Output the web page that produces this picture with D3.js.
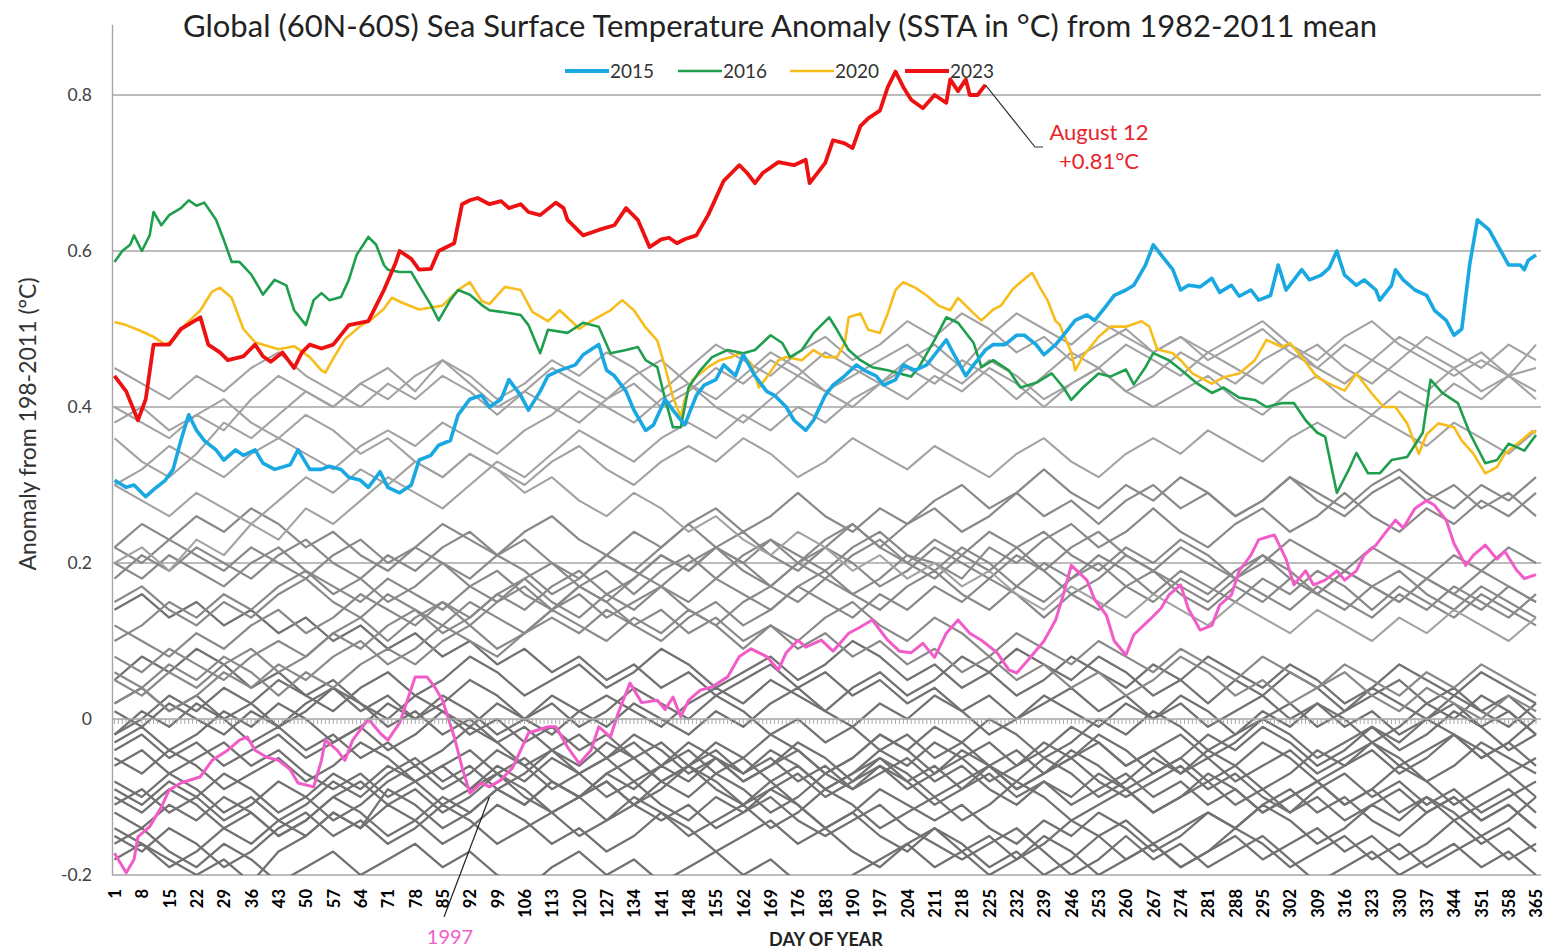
<!DOCTYPE html>
<html>
<head>
<meta charset="utf-8">
<script src="https://cdn.jsdelivr.net/npm/d3@7"></script>
<style>
  html, body { margin: 0; padding: 0; background: #fff; }
  svg { display: block; font-family: Lato, "Open Sans", sans-serif; }
</style>
</head>
<body>
<svg id="chart" width="1550" height="949"></svg>
<script>
'use strict';

// Day-of-year tick labels (also the sample days of the grey background years)
const dayTicks = [1, 8, 15, 22, 29, 36, 43, 50, 57, 64, 71, 78, 85, 92, 99, 106, 113, 120, 127, 134,
    141, 148, 155, 162, 169, 176, 183, 190, 197, 204, 211, 218, 225, 232, 239, 246, 253, 260, 267, 274,
    281, 288, 295, 302, 309, 316, 323, 330, 337, 344, 351, 358, 365];
const yTicks = [-0.2, 0, 0.2, 0.4, 0.6, 0.8];

// Highlighted years, [day, anomaly]
const s2023 = [[1,.44],[4,.42],[7,.383],[9,.41],[11,.48],[15,.48],[18,.50],[23,.515],[25,.48],[28,.47],
    [30,.46],[34,.465],[37,.48],[39,.465],[41,.458],[44,.47],[47,.45],[49,.47],[51,.48],[54,.475],[57,.48],
    [61,.505],[66,.51],[68,.53],[70,.55],[73,.585],[74,.60],[77,.59],[79,.576],[82,.577],[84,.60],[88,.61],
    [90,.66],[92,.665],[94,.668],[97,.66],[100,.664],[102,.655],[105,.66],[107,.65],[110,.646],[114,.662],
    [116,.655],[117,.64],[121,.62],[125,.627],[129,.633],[132,.655],[135,.64],[138,.605],[141,.615],
    [143,.617],[145,.61],[147,.615],[150,.62],[153,.646],[157,.69],[159,.70],[161,.71],[163,.70],[165,.687],
    [167,.70],[171,.714],[175,.71],[178,.717],[179,.687],[183,.713],[185,.742],[188,.738],[190,.732],
    [192,.76],[194,.77],[197,.78],[199,.81],[201,.83],[203,.81],[205,.794],[208,.783],[211,.80],[214,.79],
    [215,.82],[217,.805],[219,.82],[220,.80],[222,.80],[224,.813]];

const s2015 = [[1,.306],[4,.297],[6,.30],[9,.285],[11,.294],[14,.306],[16,.32],[18,.357],[20,.39],[22,.37],
    [24,.357],[27,.345],[29,.332],[32,.345],[34,.338],[37,.345],[39,.328],[42,.32],[46,.326],[48,.345],
    [51,.32],[54,.32],[56,.324],[59,.32],[61,.31],[64,.306],[66,.297],[69,.317],[71,.297],[74,.29],[77,.30],
    [79,.332],[82,.338],[84,.351],[87,.357],[89,.39],[92,.41],[95,.415],[97,.40],[100,.41],[102,.435],
    [105,.415],[107,.396],[110,.42],[112,.44],[115,.447],[119,.454],[121,.467],[125,.48],[127,.447],
    [129,.44],[132,.42],[134,.396],[137,.37],[139,.377],[142,.41],[144,.396],[147,.377],[150,.415],
    [152,.428],[155,.435],[157,.454],[160,.44],[162,.467],[165,.44],[168,.42],[170,.415],[173,.40],
    [175,.383],[178,.37],[180,.383],[183,.415],[185,.428],[188,.44],[191,.454],[193,.447],[196,.44],
    [198,.428],[201,.435],[203,.454],[206,.447],[209,.454],[211,.467],[214,.486],[216,.467],[219,.44],
    [221,.454],[224,.473],[226,.48],[229,.48],[232,.492],[234,.492],[237,.48],[239,.467],[242,.48],
    [244,.492],[247,.511],[250,.518],[252,.511],[255,.53],[257,.543],[260,.55],[262,.556],[265,.582],
    [267,.608],[269,.595],[272,.576],[274,.55],[276,.556],[279,.554],[282,.565],[284,.547],[287,.556],
    [289,.542],[292,.55],[294,.537],[297,.543],[299,.582],[301,.55],[303,.563],[305,.576],[307,.563],
    [310,.569],[312,.578],[314,.60],[316,.569],[319,.556],[321,.563],[324,.55],[325,.537],[328,.556],
    [329,.576],[331,.563],[334,.55],[337,.543],[339,.524],[342,.511],[344,.492],[346,.50],[348,.582],
    [350,.64],[353,.627],[356,.60],[358,.582],[361,.582],[362,.576],[363,.588],[365,.595]];

const s2016 = [[1,.586],[3,.60],[5,.608],[6,.62],[8,.60],[10,.62],[11,.65],[13,.633],[15,.646],[18,.655],
    [20,.665],[22,.658],[24,.662],[27,.64],[29,.614],[31,.586],[33,.586],[36,.57],[38,.553],[39,.544],
    [42,.563],[45,.556],[47,.524],[50,.505],[52,.537],[54,.546],[56,.537],[59,.541],[61,.563],[63,.595],
    [66,.618],[68,.608],[70,.582],[71,.576],[74,.573],[77,.573],[79,.556],[82,.531],[84,.511],[87,.537],
    [89,.55],[92,.544],[95,.531],[97,.524],[100,.522],[105,.518],[107,.505],[110,.469],[112,.499],
    [117,.495],[121,.508],[125,.503],[128,.469],[132,.473],[135,.477],[137,.46],[140,.451],[142,.41],
    [144,.374],[146,.374],[148,.425],[151,.447],[154,.464],[158,.473],[162,.469],[165,.473],[169,.492],
    [172,.482],[174,.464],[177,.473],[180,.495],[184,.515],[186,.499],[189,.473],[192,.46],[195,.451],
    [199,.447],[202,.443],[205,.439],[207,.451],[211,.486],[214,.515],[217,.508],[221,.482],[223,.451],
    [226,.46],[230,.447],[233,.425],[237,.431],[241,.443],[244,.425],[246,.409],[249,.425],[253,.443],
    [256,.439],[260,.448],[262,.429],[265,.451],[267,.469],[271,.46],[274,.448],[278,.431],[282,.418],
    [285,.425],[289,.412],[293,.409],[296,.40],[300,.405],[303,.405],[306,.383],[309,.367],[311,.362],
    [314,.29],[317,.319],[319,.341],[322,.315],[325,.315],[328,.332],[332,.336],[336,.367],[338,.435],
    [341,.418],[345,.405],[348,.367],[352,.328],[355,.332],[358,.353],[362,.344],[365,.364]];

const s2020 = [[1,.509],[4,.505],[7,.499],[11,.49],[14,.48],[16,.486],[19,.505],[23,.524],[26,.548],
    [28,.553],[31,.54],[34,.50],[37,.483],[43,.474],[47,.478],[51,.464],[54,.447],[55,.444],[57,.462],
    [60,.487],[64,.504],[67,.513],[70,.526],[72,.54],[75,.533],[79,.525],[85,.53],[89,.55],[92,.56],
    [95,.536],[97,.532],[101,.554],[105,.55],[108,.522],[112,.51],[115,.524],[118,.51],[120,.50],[123,.51],
    [128,.524],[131,.537],[134,.524],[137,.502],[140,.485],[142,.451],[144,.413],[146,.387],[147,.409],
    [149,.435],[153,.451],[156,.46],[159,.464],[161,.469],[164,.456],[166,.425],[168,.438],[171,.46],
    [173,.464],[177,.46],[180,.473],[183,.464],[186,.464],[188,.482],[189,.515],[192,.52],[194,.499],
    [197,.495],[199,.52],[201,.55],[203,.56],[206,.553],[209,.543],[212,.53],[215,.524],[217,.54],
    [219,.53],[221,.52],[223,.511],[226,.525],[228,.53],[231,.551],[233,.56],[236,.572],[238,.553],
    [240,.536],[242,.51],[243,.506],[246,.47],[247,.447],[249,.465],[253,.49],[256,.503],[260,.503],
    [264,.51],[266,.503],[268,.474],[272,.469],[274,.46],[277,.443],[282,.43],[285,.438],[289,.443],
    [293,.46],[296,.486],[300,.477],[302,.482],[305,.464],[309,.438],[312,.43],[316,.421],[319,.443],
    [323,.417],[326,.40],[329,.40],[332,.379],[335,.34],[337,.365],[340,.379],[344,.374],[346,.357],
    [349,.34],[352,.315],[355,.323],[357,.34],[361,.356],[364,.369],[365,.367]];

const s1997 = [[1,-.172],[4,-.197],[6,-.18],[7,-.151],[10,-.138],[13,-.113],[15,-.091],[18,-.082],
    [23,-.074],[26,-.053],[30,-.04],[33,-.027],[35,-.023],[37,-.04],[40,-.049],[43,-.053],[46,-.065],
    [48,-.082],[52,-.087],[54,-.053],[55,-.027],[58,-.04],[60,-.053],[62,-.027],[66,0],[69,-.018],
    [71,-.027],[74,-.005],[76,.024],[78,.054],[81,.054],[83,.041],[85,.024],[88,-.023],[90,-.062],
    [92,-.095],[95,-.082],[97,-.087],[100,-.078],[103,-.062],[107,-.018],[112,-.01],[114,-.01],
    [117,-.036],[120,-.057],[123,-.04],[125,-.01],[128,-.023],[130,.008],[133,.046],[136,.021],
    [140,.024],[142,.012],[144,.028],[146,.003],[148,.024],[151,.037],[154,.041],[158,.054],[161,.08],
    [164,.09],[168,.08],[171,.063],[173,.085],[176,.101],[178,.092],[182,.101],[185,.087],[189,.11],
    [192,.118],[195,.127],[199,.101],[202,.087],[205,.085],[208,.097],[211,.079],[214,.11],[217,.127],
    [220,.11],[223,.101],[227,.085],[230,.063],[232,.059],[235,.076],[239,.10],[242,.127],[244,.16],
    [246,.197],[250,.178],[252,.153],[255,.133],[257,.10],[260,.082],[262,.108],[266,.127],[269,.142],
    [271,.159],[274,.172],[276,.141],[279,.114],[282,.12],[284,.146],[287,.159],[289,.19],[292,.21],
    [294,.23],[298,.236],[301,.205],[303,.172],[306,.19],[308,.172],[311,.178],[314,.19],[316,.178],
    [319,.19],[321,.21],[324,.223],[326,.236],[329,.255],[331,.245],[334,.27],[337,.28],[339,.274],
    [342,.255],[344,.225],[347,.197],[349,.21],[352,.223],[355,.205],[357,.215],[360,.191],[362,.18],
    [365,.185]];

// Grey background years, one value per tick day
const g1982 = [-.08,-.10,-.07,-.09,-.12,-.10,-.13,-.11,-.08,-.10, -.07,-.05,-.08,-.06,-.09,-.07,-.04,-.06,-.03,-.05,
    -.08,-.06,-.03,-.05,-.02,-.04,-.07,-.05,-.02,-.04, -.01,-.03,0,-.02,-.05,-.03,0,-.02,.01,-.01,
    -.04,-.02,.01,-.01,.02,0,-.03,-.01,.02,0, .03,.01,-.02];
const g1983 = [.05,.08,.06,.09,.07,.04,.06,.03,.05,.02, 0,.03,.01,-.02,0,-.03,-.01,-.04,-.02,-.05,
    -.03,-.06,-.04,-.07,-.05,-.08,-.06,-.09,-.07,-.05, -.08,-.06,-.09,-.11,-.08,-.10,-.07,-.09,-.12,-.10,
    -.08,-.11,-.09,-.12,-.10,-.13,-.11,-.09,-.12,-.10, -.13,-.11,-.14];
const g1984 = [-.10,-.12,-.09,-.11,-.14,-.12,-.15,-.13,-.10,-.12, -.15,-.13,-.16,-.14,-.11,-.13,-.16,-.14,-.17,-.15,
    -.12,-.14,-.17,-.15,-.13,-.16,-.14,-.17,-.19,-.16, -.14,-.17,-.15,-.18,-.16,-.13,-.15,-.18,-.16,-.19,
    -.17,-.14,-.16,-.19,-.17,-.15,-.18,-.16,-.19,-.17, -.15,-.18,-.16];
const g1985 = [-.16,-.14,-.17,-.19,-.16,-.18,-.21,-.19,-.17,-.20, -.18,-.16,-.19,-.17,-.20,-.22,-.19,-.17,-.20,-.18,
    -.21,-.19,-.17,-.20,-.18,-.21,-.23,-.20,-.18,-.16, -.19,-.17,-.20,-.18,-.15,-.17,-.20,-.18,-.16,-.19,
    -.17,-.15,-.18,-.16,-.14,-.17,-.15,-.18,-.16,-.13, -.16,-.14,-.17];
const g1986 = [-.12,-.14,-.11,-.13,-.10,-.12,-.15,-.13,-.10,-.08, -.11,-.09,-.12,-.10,-.07,-.09,-.12,-.10,-.08,-.11,
    -.09,-.06,-.08,-.11,-.09,-.07,-.10,-.08,-.05,-.07, -.10,-.08,-.06,-.09,-.07,-.04,-.06,-.09,-.07,-.05,
    -.08,-.06,-.03,-.05,-.08,-.06,-.04,-.07,-.05,-.02, -.04,-.07,-.05];
const g1987 = [-.02,0,.03,.01,.04,.02,.05,.03,.01,.04, .06,.03,.05,.08,.06,.03,.05,.07,.04,.06,
    .09,.07,.04,.06,.08,.05,.07,.10,.08,.05, .07,.04,.06,.09,.07,.05,.08,.06,.03,.05,
    .08,.06,.04,.07,.05,.02,.04,.07,.05,.03, .06,.04,.02];
const g1988 = [.02,.04,.01,.03,0,.02,-.01,.01,.04,.02, -.01,.01,-.02,0,-.03,-.01,-.04,-.02,-.05,-.03,
    -.06,-.04,-.07,-.05,-.08,-.06,-.09,-.07,-.05,-.08, -.06,-.09,-.07,-.10,-.08,-.11,-.09,-.07,-.10,-.08,
    -.11,-.09,-.12,-.10,-.08,-.11,-.09,-.12,-.10,-.13, -.11,-.09,-.12];
const g1989 = [-.14,-.16,-.18,-.20,-.18,-.21,-.17,-.15,-.12,-.14, -.09,-.11,-.14,-.12,-.09,-.11,-.08,-.10,-.13,-.11,
    -.08,-.10,-.07,-.09,-.12,-.10,-.07,-.09,-.06,-.08, -.11,-.09,-.06,-.08,-.05,-.07,-.10,-.08,-.05,-.07,
    -.04,-.06,-.09,-.07,-.04,-.06,-.03,-.05,-.08,-.06, -.03,-.05,-.07];
const g1990 = [-.03,-.01,-.04,-.02,.01,-.01,.02,0,-.03,-.01, .02,0,.03,.01,-.02,0,.03,.01,-.01,.02,
    0,-.02,.01,-.01,.02,.04,.01,-.01,.02,0, .03,.01,-.02,0,.03,.01,-.01,.02,0,.03,
    .01,-.02,0,.02,-.01,.01,.04,.02,0,.03, .01,-.01,.02];
const g1991 = [.01,-.01,.02,0,-.02,.01,-.01,.02,.04,.01, .03,0,.02,.05,.03,0,.02,-.01,.01,.04,
    .02,0,.03,.01,-.02,0,-.03,-.01,-.04,-.02, -.05,-.03,-.06,-.04,-.07,-.05,-.03,-.06,-.04,-.07,
    -.05,-.08,-.06,-.04,-.07,-.05,-.03,-.06,-.04,-.02, -.05,-.03,-.06];
const g1992 = [-.06,-.04,-.07,-.05,-.03,-.06,-.04,-.07,-.09,-.07, -.10,-.08,-.06,-.09,-.07,-.10,-.12,-.10,-.08,-.11,
    -.13,-.11,-.14,-.12,-.10,-.13,-.15,-.13,-.11,-.14, -.16,-.18,-.16,-.14,-.17,-.20,-.18,-.15,-.18,-.16,
    -.19,-.17,-.15,-.18,-.21,-.19,-.17,-.20,-.18,-.16, -.19,-.17,-.20];
const g1993 = [-.09,-.11,-.08,-.10,-.07,-.09,-.12,-.10,-.07,-.09, -.06,-.08,-.11,-.09,-.06,-.08,-.05,-.07,-.10,-.08,
    -.11,-.13,-.10,-.12,-.09,-.11,-.14,-.12,-.09,-.11, -.13,-.11,-.14,-.16,-.13,-.15,-.12,-.14,-.17,-.15,
    -.12,-.14,-.11,-.13,-.16,-.14,-.11,-.13,-.10,-.12, -.15,-.13,-.10];
const g1994 = [-.11,-.09,-.12,-.10,-.13,-.11,-.08,-.10,-.13,-.11, -.08,-.06,-.09,-.07,-.04,-.06,-.09,-.07,-.05,-.08,
    -.06,-.03,-.05,-.08,-.06,-.04,-.07,-.05,-.02,-.04, -.07,-.05,-.03,-.06,-.04,-.01,-.03,-.06,-.04,-.02,
    -.05,-.03,0,-.02,-.05,-.03,-.01,-.04,-.02,.01, -.01,-.04,-.02];
const g1995 = [-.02,.01,-.01,.02,0,-.03,-.01,-.04,-.02,-.05, -.03,-.06,-.04,-.01,-.03,-.06,-.04,-.07,-.05,-.02,
    -.04,-.07,-.05,-.08,-.06,-.03,-.05,-.08,-.06,-.09, -.07,-.04,-.06,-.09,-.07,-.05,-.08,-.10,-.08,-.06,
    -.09,-.07,-.10,-.12,-.09,-.07,-.10,-.08,-.11,-.09, -.12,-.10,-.08];
const g1996 = [-.15,-.17,-.14,-.16,-.19,-.17,-.14,-.12,-.15,-.13, -.16,-.14,-.11,-.13,-.16,-.14,-.12,-.15,-.13,-.10,
    -.12,-.15,-.13,-.11,-.14,-.12,-.09,-.11,-.14,-.12, -.10,-.13,-.11,-.08,-.10,-.13,-.11,-.09,-.12,-.10,
    -.07,-.09,-.12,-.10,-.08,-.11,-.09,-.06,-.08,-.11, -.09,-.07,-.10];
const g1998 = [.22,.25,.23,.26,.24,.27,.25,.22,.24,.21, .19,.22,.20,.17,.19,.16,.14,.17,.15,.12,
    .14,.11,.13,.10,.12,.09,.11,.08,.10,.07, .09,.06,.08,.05,.07,.04,.06,.03,.05,.08,
    .06,.03,.05,.02,.04,.06,.03,.01,.04,.02, 0,.03,.01];
const g1999 = [-.05,-.07,-.04,-.06,-.09,-.07,-.05,-.08,-.06,-.03, -.05,-.08,-.06,-.04,-.07,-.05,-.08,-.10,-.07,-.05,
    -.08,-.06,-.09,-.11,-.08,-.11,-.14,-.12,-.15,-.17, -.14,-.16,-.19,-.17,-.20,-.18,-.15,-.13,-.16,-.14,
    -.12,-.14,-.11,-.09,-.12,-.10,-.13,-.15,-.12,-.10, -.13,-.11,-.14];
const g2000 = [-.18,-.16,-.19,-.17,-.14,-.16,-.13,-.15,-.12,-.14, -.11,-.13,-.10,-.12,-.09,-.11,-.08,-.10,-.07,-.09,
    -.06,-.08,-.05,-.07,-.04,-.06,-.09,-.07,-.04,-.06, -.03,-.05,-.08,-.06,-.03,-.05,-.02,-.04,-.07,-.05,
    -.02,-.04,-.01,-.03,-.06,-.04,-.01,-.03,0,-.02, -.05,-.03,0];
const g2001 = [.02,.04,.01,.03,.06,.04,.07,.05,.08,.10, .07,.09,.12,.10,.08,.11,.13,.11,.14,.12,
    .10,.13,.15,.12,.14,.17,.15,.13,.16,.14, .17,.15,.18,.16,.13,.16,.14,.17,.19,.16,
    .14,.17,.15,.18,.16,.14,.17,.19,.16,.14, .17,.15,.13];
const g2002 = [.10,.12,.15,.13,.16,.14,.17,.19,.16,.18, .15,.17,.20,.18,.21,.19,.16,.18,.21,.19,
    .17,.20,.22,.19,.17,.20,.18,.21,.23,.20, .18,.21,.19,.22,.24,.21,.19,.22,.20,.23,
    .21,.18,.20,.23,.21,.19,.22,.20,.18,.21, .19,.22,.20];
const g2003 = [.20,.18,.21,.19,.17,.20,.22,.19,.17,.15, .18,.16,.14,.17,.15,.18,.20,.17,.15,.18,
    .21,.19,.22,.24,.21,.19,.22,.20,.17,.19, .22,.20,.18,.21,.19,.16,.18,.21,.19,.17,
    .15,.18,.16,.14,.17,.15,.13,.16,.14,.17, .15,.13,.16];
const g2004 = [.15,.17,.14,.12,.15,.13,.16,.18,.15,.13, .16,.14,.12,.15,.13,.11,.14,.16,.13,.15,
    .17,.14,.12,.15,.17,.15,.18,.16,.14,.17, .19,.16,.14,.17,.15,.18,.20,.17,.15,.18,
    .16,.19,.21,.18,.16,.19,.17,.15,.18,.16, .14,.17,.15];
const g2005 = [.18,.21,.19,.22,.20,.18,.21,.23,.20,.18, .21,.19,.22,.24,.21,.23,.20,.18,.21,.19,
    .22,.25,.22,.20,.23,.21,.19,.22,.24,.21, .19,.22,.20,.17,.20,.18,.21,.19,.16,.19,
    .17,.15,.18,.16,.19,.17,.14,.17,.15,.13, .16,.14,.12];
const g2006 = [.12,.10,.08,.11,.09,.12,.14,.11,.13,.16, .14,.12,.15,.13,.16,.18,.15,.13,.16,.14,
    .17,.15,.18,.16,.14,.17,.19,.16,.18,.21, .20,.18,.22,.20,.23,.25,.22,.24,.27,.24,
    .22,.25,.27,.24,.26,.29,.26,.24,.27,.25, .28,.26,.29];
const g2007 = [.14,.16,.13,.15,.12,.14,.11,.13,.10,.12, .09,.11,.08,.10,.07,.09,.06,.08,.05,.07,
    .04,.06,.03,.05,.07,.04,.06,.03,.05,.02, .04,.01,.03,0,.02,.04,.01,.03,0,.02,
    -.01,.01,.03,0,.02,-.01,.01,-.02,0,.02, -.01,.01,-.02];
const g2008 = [-.04,-.02,-.05,-.03,-.06,-.04,-.02,-.05,-.03,-.01, -.04,-.02,.01,-.01,.02,0,-.02,.01,.03,.01,
    -.01,.02,.04,.02,.05,.03,.01,.04,.06,.03, .05,.08,.06,.03,.05,.08,.06,.04,.07,.05,
    .02,.05,.03,.06,.04,.01,.03,.05,.02,.04, .01,.03,0];
const g2009 = [.08,.06,.09,.07,.05,.08,.10,.08,.11,.13, .10,.13,.15,.12,.15,.17,.14,.17,.19,.16,
    .19,.21,.18,.21,.23,.20,.23,.25,.22,.25, .27,.24,.26,.29,.26,.28,.25,.28,.30,.27,
    .29,.26,.28,.31,.28,.26,.29,.31,.28,.30, .27,.29,.26];
const g2010 = [.38,.40,.37,.39,.41,.38,.36,.39,.37,.34, .36,.33,.31,.34,.32,.29,.31,.28,.26,.29,
    .27,.24,.26,.23,.21,.24,.22,.19,.21,.18, .20,.17,.19,.16,.14,.17,.15,.13,.16,.14,
    .12,.15,.13,.11,.14,.12,.10,.13,.11,.14, .12,.10,.13];
const g2011 = [.06,.04,.07,.05,.08,.06,.03,.06,.04,.07, .09,.07,.10,.12,.09,.11,.14,.12,.10,.13,
    .11,.14,.12,.09,.12,.10,.13,.15,.12,.10, .13,.11,.08,.11,.09,.07,.10,.08,.06,.09,
    .07,.05,.08,.06,.04,.07,.05,.03,.06,.04, .07,.05,.03];
const g2012 = [.05,.03,.06,.04,.07,.09,.06,.08,.11,.09, .12,.14,.11,.13,.16,.14,.17,.19,.16,.18,
    .21,.19,.22,.20,.17,.20,.22,.25,.22,.20, .23,.21,.24,.22,.19,.22,.24,.21,.19,.22,
    .20,.18,.21,.19,.16,.19,.17,.15,.18,.16, .19,.17,.15];
const g2013 = [.22,.20,.23,.21,.19,.22,.20,.18,.21,.23, .20,.22,.25,.23,.21,.24,.26,.23,.21,.24,
    .22,.25,.27,.24,.26,.29,.26,.24,.27,.25, .28,.30,.27,.29,.32,.29,.27,.30,.28,.31,
    .29,.26,.28,.31,.29,.27,.30,.32,.29,.27, .30,.28,.31];
const g2014 = [.20,.22,.19,.23,.21,.25,.23,.27,.25,.28, .31,.29,.27,.30,.33,.31,.34,.37,.35,.33,
    .36,.38,.36,.39,.37,.40,.38,.41,.43,.41, .44,.42,.45,.43,.40,.43,.45,.48,.46,.44,
    .47,.45,.43,.46,.48,.45,.43,.46,.49,.47, .45,.48,.46];
const g2017 = [.40,.38,.36,.39,.37,.41,.44,.42,.40,.43, .41,.44,.46,.43,.40,.42,.45,.43,.41,.44,
    .46,.43,.41,.44,.47,.45,.42,.44,.46,.48, .45,.43,.46,.44,.41,.43,.45,.42,.40,.42,
    .44,.41,.39,.42,.44,.41,.39,.42,.40,.43, .41,.44,.42];
const g2018 = [.30,.28,.26,.29,.27,.25,.28,.31,.29,.32, .30,.33,.31,.34,.32,.30,.33,.35,.32,.30,
    .33,.35,.33,.36,.34,.31,.33,.36,.34,.32, .35,.33,.31,.34,.36,.33,.31,.34,.36,.34,
    .37,.35,.33,.36,.38,.36,.39,.37,.35,.38, .36,.34,.37];
const g2019 = [.36,.33,.31,.34,.38,.36,.39,.42,.40,.43, .45,.42,.46,.44,.41,.43,.46,.44,.47,.45,
    .42,.45,.48,.46,.44,.47,.49,.46,.48,.51, .49,.52,.50,.47,.49,.46,.48,.50,.47,.49,
    .47,.49,.51,.48,.46,.49,.51,.48,.46,.44, .46,.44,.48];
const g2021 = [.30,.32,.35,.33,.31,.34,.36,.34,.32,.35, .37,.35,.38,.36,.34,.37,.39,.42,.40,.38,
    .41,.43,.40,.38,.41,.44,.42,.40,.43,.45, .43,.46,.44,.41,.44,.47,.45,.42,.44,.47,
    .45,.43,.46,.48,.45,.43,.46,.44,.42,.45, .47,.44,.45];
const g2022 = [.45,.43,.41,.44,.42,.45,.47,.44,.42,.40, .43,.41,.44,.42,.39,.42,.40,.38,.41,.43,
    .40,.42,.45,.43,.46,.44,.47,.45,.43,.46, .48,.45,.49,.52,.50,.48,.51,.49,.47,.49,
    .46,.48,.50,.47,.45,.48,.46,.49,.47,.45, .42,.44,.41];

const darkGreyYears = [g1982, g1983, g1984, g1985, g1986, g1987, g1988, g1989, g1990, g1991, g1992,
    g1993, g1994, g1995, g1996, g1999, g2000, g2007, g2008];
const midGreyYears = [g1998, g2001, g2002, g2003, g2004, g2005, g2006, g2009, g2011, g2012, g2013];
const lightGreyYears = [g2010, g2014, g2017, g2018, g2019, g2021, g2022];

function main() {
    const svg = d3.select('#chart');
    const x = d3.scaleLinear().domain([1, 365]).range([114.5, 1536]);
    const y = d3.scaleLinear().domain([-0.2, 0.8]).range([875, 95]);

    // Title
    svg.append('text')
        .attr('x', 780).attr('y', 37)
        .attr('text-anchor', 'middle')
        .style('font-size', '31px').style('fill', '#222')
        .text('Global (60N-60S) Sea Surface Temperature Anomaly (SSTA in °C) from 1982-2011 mean');

    // Horizontal gridlines (zero is drawn as the category axis below)
    svg.append('g').selectAll('line')
        .data(yTicks.filter(v => v !== 0))
        .enter().append('line')
        .attr('x1', 112).attr('x2', 1541)
        .attr('y1', d => y(d)).attr('y2', d => y(d))
        .style('stroke', '#a6a6a6').style('stroke-width', 1.4);

    // Left axis with labels only
    const yAxis = svg.append('g')
        .attr('transform', 'translate(112, 0)')
        .call(d3.axisLeft(y).tickValues(yTicks).tickSize(0).tickPadding(20).tickFormat(d => String(d)));
    yAxis.select('.domain').remove();
    yAxis.selectAll('text').style('font-size', '17.5px').style('fill', '#404040')
        .style('font-family', 'Lato, "Open Sans", sans-serif');
    svg.append('line')
        .attr('x1', 112.5).attr('x2', 112.5).attr('y1', y(0.89)).attr('y2', y(-0.2))
        .style('stroke', '#a6a6a6').style('stroke-width', 1.4);

    // Y axis title
    svg.append('text')
        .attr('transform', 'translate(36, 424) rotate(-90)')
        .attr('text-anchor', 'middle')
        .style('font-size', '23px').style('fill', '#333')
        .text('Anomaly from 198-2011 (°C)');

    // Bottom day labels
    const xAxis = svg.append('g')
        .attr('transform', `translate(0, ${y(-0.2)})`)
        .call(d3.axisBottom(x).tickValues(dayTicks).tickSize(0).tickFormat(d => String(d)));
    xAxis.select('.domain').remove();
    xAxis.selectAll('text')
        .attr('transform', 'rotate(-90)')
        .attr('x', -14).attr('y', 0).attr('dy', '0.36em')
        .style('text-anchor', 'end')
        .style('font-size', '16.5px').style('font-weight', 'bold').style('fill', '#000')
        .style('font-family', 'Lato, "Open Sans", sans-serif');

    svg.append('text')
        .attr('x', 826).attr('y', 946)
        .attr('text-anchor', 'middle')
        .style('font-size', '18px').style('font-weight', 'bold').style('fill', '#222')
        .text('DAY OF YEAR');

    // Clip series to the plot area like the spreadsheet does
    svg.append('clipPath').attr('id', 'plotClip')
        .append('rect').attr('x', 100).attr('y', 10).attr('width', 1445).attr('height', y(-0.2) - 10);

    const plot = svg.append('g').attr('clip-path', 'url(#plotClip)');

    const greyLine = d3.line()
        .x((d, i) => x(dayTicks[i]))
        .y(d => y(d));

    function addGrey(list, colour, width) {
        plot.append('g').selectAll('path')
            .data(list)
            .enter().append('path')
            .attr('d', greyLine)
            .style('fill', 'none')
            .style('stroke', colour)
            .style('stroke-width', width)
            .style('stroke-linejoin', 'round');
    }
    addGrey(darkGreyYears, '#717171', 2.3);
    addGrey(midGreyYears, '#898989', 2.2);
    addGrey(lightGreyYears, '#a2a2a2', 2.1);

    // Zero line with a small tick for every day
    svg.append('line')
        .attr('x1', 112).attr('x2', 1541).attr('y1', y(0)).attr('y2', y(0))
        .style('stroke', '#a6a6a6').style('stroke-width', 1.4);
    svg.append('g').selectAll('line')
        .data(d3.range(1, 366))
        .enter().append('line')
        .attr('x1', d => x(d)).attr('x2', d => x(d))
        .attr('y1', y(0)).attr('y2', y(0) + 5)
        .style('stroke', '#a0a0a0').style('stroke-width', 0.9);

    const pairLine = d3.line()
        .x(d => x(d[0]))
        .y(d => y(d[1]));

    const highlights = [
        { data: s1997, colour: '#f25cc9', width: 3 },
        { data: s2020, colour: '#f7bd1c', width: 2.6 },
        { data: s2016, colour: '#1f9e4d', width: 2.6 },
        { data: s2015, colour: '#1aa8e2', width: 3.6 },
        { data: s2023, colour: '#ee1111', width: 3.8 }
    ];
    highlights.forEach(h => {
        plot.append('path')
            .datum(h.data)
            .attr('d', pairLine)
            .style('fill', 'none')
            .style('stroke', h.colour)
            .style('stroke-width', h.width)
            .style('stroke-linejoin', 'round');
    });

    // Legend
    const legendItems = [
        { label: '2015', colour: '#1aa8e2', width: 4, x: 565 },
        { label: '2016', colour: '#1f9e4d', width: 2.6, x: 678 },
        { label: '2020', colour: '#f7bd1c', width: 2.6, x: 790 },
        { label: '2023', colour: '#ee1111', width: 4, x: 905 }
    ];
    const legend = svg.append('g');
    legendItems.forEach(item => {
        legend.append('line')
            .attr('x1', item.x).attr('x2', item.x + 44)
            .attr('y1', 71).attr('y2', 71)
            .style('stroke', item.colour).style('stroke-width', item.width);
        legend.append('text')
            .attr('x', item.x + 45).attr('y', 78)
            .style('font-size', '19px').style('fill', '#333')
            .text(item.label);
    });

    // Annotation for the latest 2023 value
    const last = s2023[s2023.length - 1];
    svg.append('path')
        .attr('d', `M${x(last[0])},${y(last[1])} L1035,147 L1043,147`)
        .style('fill', 'none').style('stroke', '#333').style('stroke-width', 1.2);
    svg.append('text')
        .attr('x', 1099).attr('y', 140)
        .attr('text-anchor', 'middle')
        .style('font-size', '22px').style('fill', '#e8242c')
        .text('August 12');
    svg.append('text')
        .attr('x', 1099).attr('y', 169)
        .attr('text-anchor', 'middle')
        .style('font-size', '22px').style('fill', '#e8242c')
        .text('+0.81°C');

    // 1997 label
    svg.append('path')
        .attr('d', `M${x(97)},${y(-0.1)} L444,917`)
        .style('fill', 'none').style('stroke', '#222').style('stroke-width', 1.2);
    svg.append('text')
        .attr('x', 450).attr('y', 944)
        .attr('text-anchor', 'middle')
        .style('font-size', '20px').style('fill', '#f060c8')
        .text('1997');
}
main();
</script>
</body>
</html>
